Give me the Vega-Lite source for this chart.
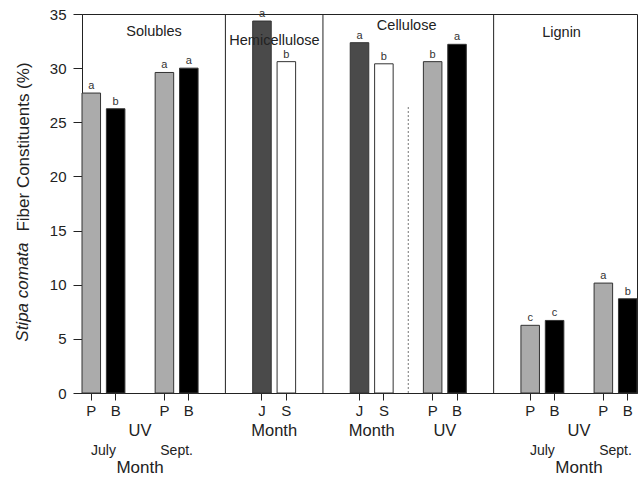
{
  "$schema": "https://vega.github.io/schema/vega-lite/v6.json",
  "width": 555,
  "height": 379,
  "autosize": {"type": "none"},
  "padding": {"left": 82, "top": 14, "right": 5, "bottom": 84},
  "background": "white",
  "config": {
    "font": "Liberation Sans",
    "view": {"stroke": "#222", "strokeWidth": 1},
    "axis": {"domainColor": "#222", "tickColor": "#222", "labelColor": "#222", "titleColor": "#222", "grid": false},
    "text": {"color": "#222", "font": "Liberation Sans"}
  },
  "datasets": {
    "bars": [
      {"slot": "SolJulP", "trt": "P", "value": 27.7, "sig": "a"},
      {"slot": "SolJulB", "trt": "B", "value": 26.25, "sig": "b"},
      {"slot": "SolSepP", "trt": "P", "value": 29.6, "sig": "a"},
      {"slot": "SolSepB", "trt": "B", "value": 30.0, "sig": "a"},
      {"slot": "HemJ", "trt": "J", "value": 34.35, "sig": "a"},
      {"slot": "HemS", "trt": "S", "value": 30.6, "sig": "b"},
      {"slot": "CelJ", "trt": "J", "value": 32.35, "sig": "a"},
      {"slot": "CelS", "trt": "S", "value": 30.4, "sig": "b"},
      {"slot": "CelP", "trt": "P", "value": 30.6, "sig": "b"},
      {"slot": "CelB", "trt": "B", "value": 32.2, "sig": "a"},
      {"slot": "LigJulP", "trt": "P", "value": 6.25, "sig": "c"},
      {"slot": "LigJulB", "trt": "B", "value": 6.7, "sig": "c"},
      {"slot": "LigSepP", "trt": "P", "value": 10.15, "sig": "a"},
      {"slot": "LigSepB", "trt": "B", "value": 8.7, "sig": "b"}
    ],
    "xlabels": [
      {"label": "UV", "slot": "g2", "group": "A"},
      {"label": "UV", "slot": "g20", "group": "A"},
      {"label": "Month", "slot": "HemJ", "group": "B"},
      {"label": "Month", "slot": "CelJ", "group": "B"},
      {"label": "UV", "slot": "CelP", "group": "B"},
      {"label": "July", "slot": "SolJulP", "group": "C"},
      {"label": "Sept.", "slot": "SolSepP", "group": "C"},
      {"label": "July", "slot": "LigJulP", "group": "C"},
      {"label": "Sept.", "slot": "LigSepP", "group": "C"},
      {"label": "Month", "slot": "g2", "group": "D"},
      {"label": "Month", "slot": "g20", "group": "D"}
    ],
    "dividers": [
      {"gap": "g5"},
      {"gap": "g9"},
      {"gap": "g16"}
    ]
  },
  "layer": [
    {
      "data": {"name": "bars"},
      "mark": {"type": "bar", "stroke": "#333", "strokeWidth": 1},
      "encoding": {
        "x": {
          "field": "slot", "type": "nominal",
          "scale": {
            "type": "band",
            "domain": ["SolJulP","SolJulB","g2","SolSepP","SolSepB","g5","g6","HemJ","HemS","g9","g10","CelJ","CelS","g13","CelP","CelB","g16","g17","LigJulP","LigJulB","g20","LigSepP","LigSepB"],
            "paddingInner": 0.24, "paddingOuter": 0
          },
          "axis": {
            "title": null,
            "values": ["SolJulP","SolJulB","SolSepP","SolSepB","HemJ","HemS","CelJ","CelS","CelP","CelB","LigJulP","LigJulB","LigSepP","LigSepB"],
            "labelExpr": "slice(datum.value, -1)",
            "labelAngle": 0,
            "tickSize": 7,
            "labelPadding": 3,
            "labelFontSize": 15
          }
        },
        "y": {
          "field": "value", "type": "quantitative",
          "scale": {"domain": [0, 35], "nice": false},
          "axis": {
            "values": [0, 5, 10, 15, 20, 25, 30, 35],
            "tickSize": 9,
            "labelPadding": 7,
            "labelFontSize": 15,
            "title": "Fiber Constituents (%)",
            "titleFontSize": 17,
            "titleFontWeight": "normal",
            "titleAngle": 270,
            "titleAlign": "center",
            "titleBaseline": "middle",
            "titleX": -59,
            "titleY": 132.5
          }
        },
        "color": {
          "field": "trt", "type": "nominal",
          "scale": {"domain": ["P", "B", "J", "S"], "range": ["#ababab", "#000000", "#4a4a4a", "#ffffff"]},
          "legend": null
        }
      }
    },
    {
      "data": {"name": "bars"},
      "mark": {"type": "text", "baseline": "alphabetic", "dy": -4, "fontSize": 11, "color": "#333"},
      "encoding": {
        "x": {"field": "slot", "type": "nominal"},
        "y": {"field": "value", "type": "quantitative"},
        "text": {"field": "sig"}
      }
    },
    {
      "data": {"name": "dividers"},
      "mark": {"type": "rule", "color": "#222", "strokeWidth": 1},
      "encoding": {
        "x": {"field": "gap", "type": "nominal", "bandPosition": 1.159}
      }
    },
    {
      "data": {"values": [{"gap": "g13"}]},
      "mark": {"type": "rule", "color": "#777", "strokeWidth": 1, "strokeDash": [2, 2]},
      "encoding": {
        "x": {"field": "gap", "type": "nominal", "bandPosition": 0.5},
        "y": {"datum": 0},
        "y2": {"datum": 26.5}
      }
    },
    {
      "data": {"values": [{"label": "Solubles"}]},
      "mark": {"type": "text", "fontSize": 14.5, "align": "center", "baseline": "middle", "dx": 14, "color": "#222"},
      "encoding": {"x": {"datum": "g2"}, "y": {"datum": 33.3}, "text": {"field": "label"}}
    },
    {
      "data": {"values": [{"label": "Hemicellulose"}]},
      "mark": {"type": "text", "fontSize": 14.5, "align": "center", "baseline": "middle", "dx": 12.5, "color": "#222"},
      "encoding": {"x": {"datum": "HemJ"}, "y": {"datum": 32.5}, "text": {"field": "label"}}
    },
    {
      "data": {"values": [{"label": "Cellulose"}]},
      "mark": {"type": "text", "fontSize": 14.5, "align": "center", "baseline": "middle", "dx": -1.6, "color": "#222"},
      "encoding": {"x": {"datum": "g13"}, "y": {"datum": 33.85}, "text": {"field": "label"}}
    },
    {
      "data": {"values": [{"label": "Lignin"}]},
      "mark": {"type": "text", "fontSize": 14.5, "align": "center", "baseline": "middle", "dx": 7, "color": "#222"},
      "encoding": {"x": {"datum": "LigJulB"}, "y": {"datum": 33.2}, "text": {"field": "label"}}
    },
    {
      "data": {"values": [{"label": "Stipa comata"}]},
      "mark": {"type": "text", "fontSize": 17, "fontStyle": "italic", "angle": 270, "align": "center", "baseline": "middle", "dy": -68.3, "color": "#222"},
      "encoding": {"x": {"datum": "SolJulP"}, "y": {"datum": 9.32}, "text": {"field": "label"}}
    },
    {
      "data": {"name": "xlabels"},
      "transform": [{"filter": "datum.group == 'A'"}],
      "mark": {"type": "text", "fontSize": 16.5, "align": "center", "baseline": "middle", "dy": 38, "color": "#222"},
      "encoding": {"x": {"field": "slot", "type": "nominal"}, "y": {"datum": 0}, "text": {"field": "label"}}
    },
    {
      "data": {"name": "xlabels"},
      "transform": [{"filter": "datum.group == 'B'"}],
      "mark": {"type": "text", "fontSize": 16.5, "align": "center", "baseline": "middle", "dy": 38, "dx": 12.2, "color": "#222"},
      "encoding": {"x": {"field": "slot", "type": "nominal"}, "y": {"datum": 0}, "text": {"field": "label"}}
    },
    {
      "data": {"name": "xlabels"},
      "transform": [{"filter": "datum.group == 'C'"}],
      "mark": {"type": "text", "fontSize": 14, "align": "center", "baseline": "middle", "dy": 58, "dx": 12.2, "color": "#222"},
      "encoding": {"x": {"field": "slot", "type": "nominal"}, "y": {"datum": 0}, "text": {"field": "label"}}
    },
    {
      "data": {"name": "xlabels"},
      "transform": [{"filter": "datum.group == 'D'"}],
      "mark": {"type": "text", "fontSize": 17, "align": "center", "baseline": "middle", "dy": 75, "color": "#222"},
      "encoding": {"x": {"field": "slot", "type": "nominal"}, "y": {"datum": 0}, "text": {"field": "label"}}
    }
  ]
}
